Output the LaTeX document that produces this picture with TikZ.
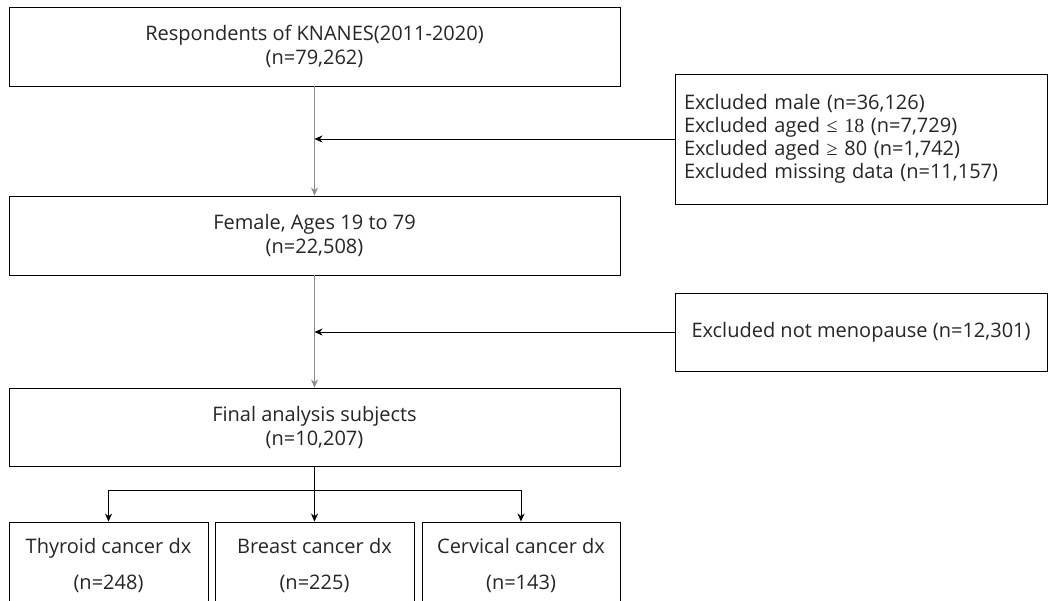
\documentclass[tikz,border=0pt]{standalone}
\usepackage{fontspec}
\setmainfont{Open Sans}
\newfontfamily\symserif{Liberation Serif}
\usetikzlibrary{arrows.meta}
\begin{document}
\begin{tikzpicture}[x=1pt,y=-1pt,
  box/.style={draw=black, line width=0.9pt, rectangle, inner sep=0pt, align=center, text=black!85, font=\fontsize{20}{24}\selectfont},
  exbox/.style={box, align=left, font=\fontsize{20}{23}\selectfont},
  arr/.style={draw=black, line width=0.9pt, -{Stealth[length=8pt,width=7pt,inset=2.5pt]}},
  trunk/.style={arr, draw=black!45},
]
\useasboundingbox (0,0) rectangle (1048,600);
\clip (0,0) rectangle (1048,600);
\fill[white] (0,0) rectangle (1048,600);

\node[box, minimum width=611pt, minimum height=79pt] (top) at (314.5,46.5)
  {Respondents of KNANES(2011-2020)\\(n=79,262)};
\node[box, minimum width=611pt, minimum height=79pt] (fem) at (314.5,235.5)
  {Female, Ages 19 to 79\\(n=22,508)};
\node[box, minimum width=611pt, minimum height=78pt] (fin) at (314.5,427)
  {Final analysis subjects\\(n=10,207)};

\node[exbox, minimum width=372pt, minimum height=130pt, text width=354pt] (ex1) at (861,139)
  {Excluded male (n=36,126)\\Excluded aged {\symserif ≤ 18} (n=7,729)\\Excluded aged {\symserif ≥} 80 (n=1,742)\\Excluded missing data (n=11,157)};
\node[box, minimum width=372pt, minimum height=78pt] (ex2) at (861,332)
  {Excluded not menopause (n=12,301)};

\node[box, minimum width=199pt, minimum height=86pt] (thy) at (108.5,565)
  {Thyroid cancer dx\\[12pt](n=248)};
\node[box, minimum width=199pt, minimum height=86pt] (bre) at (314.5,565)
  {Breast cancer dx\\[12pt](n=225)};
\node[box, minimum width=198pt, minimum height=86pt] (cer) at (521,565)
  {Cervical cancer dx\\[12pt](n=143)};

\draw[trunk] (top.south) -- (fem.north);
\draw[arr] (ex1.west) -- (ex1.west -| top.south);
\draw[trunk] (fem.south) -- (fin.north);
\draw[arr] (ex2.west) -- (ex2.west -| fem.south);

\coordinate (br) at (314.5,490);
\draw[arr] (fin.south) -- (bre.north);
\draw[arr] (br) -| (thy.north);
\draw[arr] (br) -| (cer.north);
\end{tikzpicture}
\end{document}
